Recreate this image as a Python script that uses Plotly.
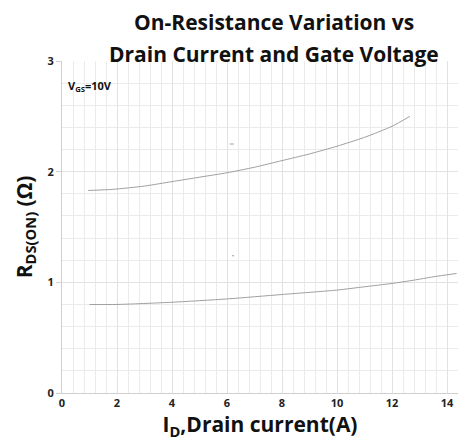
import plotly.graph_objects as go

# Data
id_upper = [0.95, 1.85, 3.0, 4.0, 5.0, 6.0, 7.0, 8.0, 9.0, 10.0, 11.0, 12.0, 12.65]
rds_upper = [1.83, 1.84, 1.87, 1.91, 1.95, 1.99, 2.04, 2.10, 2.16, 2.23, 2.31, 2.41, 2.50]

id_lower = [1.0, 2.0, 4.0, 6.0, 8.0, 10.0, 11.0, 12.0, 12.8, 13.5, 14.35]
rds_lower = [0.80, 0.80, 0.82, 0.85, 0.89, 0.93, 0.96, 0.99, 1.02, 1.05, 1.08]

mark1_x = [6.1, 6.25]
mark1_y = [2.25, 2.25]
mark2_x = [6.18, 6.26]
mark2_y = [1.24, 1.24]

x_ticks = [0, 2, 4, 6, 8, 10, 12, 14]
y_ticks = [0, 1, 2, 3]

title_lines = ["On-Resistance Variation vs", "Drain Current and Gate Voltage"]

line_color = "#a0a0a0"
fig = go.Figure()
for xs, ys in [(id_upper, rds_upper), (id_lower, rds_lower), (mark1_x, mark1_y), (mark2_x, mark2_y)]:
    fig.add_trace(go.Scatter(x=xs, y=ys, mode="lines", line=dict(color=line_color, width=1, shape="spline", smoothing=0.6),
                             showlegend=False, hoverinfo="skip"))

font_family = "Open Sans, DejaVu Sans, sans-serif"
annos = [dict(text="<b>V<sub>GS</sub>=10V</b>", x=0.15, y=2.77, xref="x", yref="y",
              xanchor="left", yanchor="middle", showarrow=False,
              font=dict(size=11, color="#111"))]
for yy, t in zip([1.117, 1.021], title_lines):
    annos.append(dict(text=f"<b>{t}</b>", x=(274 - 62) / 396, y=yy, xref="paper", yref="paper", showarrow=False,
                      xanchor="center", yanchor="middle", font=dict(size=21, color="#111")))

fig.update_layout(
    width=459, height=441,
    margin=dict(l=62, r=1, t=61, b=48),
    plot_bgcolor="white", paper_bgcolor="white",
    font=dict(family=font_family, color="#222"),
    xaxis=dict(range=[0, 14.4], tickvals=x_ticks, ticktext=[f"<b>{v}</b>" for v in x_ticks],
               showgrid=True, gridcolor="#e2e2e2", gridwidth=1,
               minor=dict(dtick=0.4, showgrid=True, gridcolor="#ebebeb", gridwidth=1),
               showline=True, linecolor="#d0d0d0", zeroline=False,
               tickfont=dict(size=11, color="#222"),
               title=dict(text="<b>I<sub>D</sub>,Drain current(A)</b>", font=dict(size=21, color="#111"), standoff=2)),
    yaxis=dict(range=[0, 3], tickvals=y_ticks, ticktext=[f"<b>{v}</b>" for v in y_ticks],
               showgrid=True, gridcolor="#e2e2e2", gridwidth=1,
               minor=dict(dtick=0.2, showgrid=True, gridcolor="#ebebeb", gridwidth=1),
               showline=True, linecolor="#d0d0d0", zeroline=False,
               ticks="outside", ticklen=5, tickcolor="#d0d0d0",
               tickfont=dict(size=11, color="#222"),
               title=dict(text="<b>R<sub>DS(ON)</sub> (Ω)</b>", font=dict(size=21, color="#111"), standoff=9)),
    annotations=annos,
)
fig.write_html("out.html")
